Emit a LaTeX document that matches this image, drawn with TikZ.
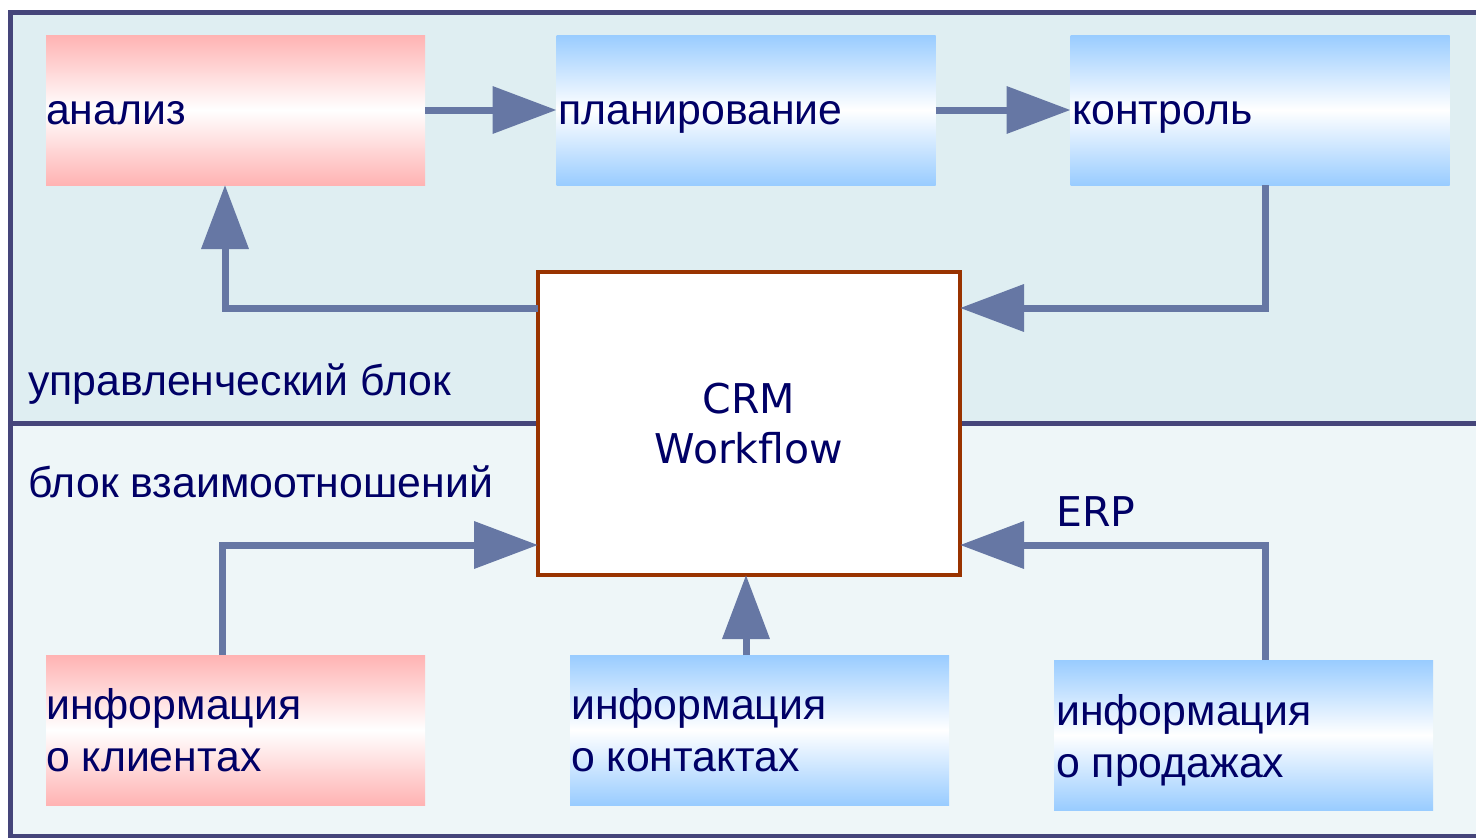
\documentclass[tikz,border=0pt]{standalone}
\usepackage{fontspec}
\setmainfont{Liberation Sans}
\newfontfamily\dejavu{DejaVu Sans}
\usetikzlibrary{arrows.meta,calc}
\definecolor{framec}{HTML}{45457A}
\definecolor{upfill}{HTML}{DFEEF2}
\definecolor{lowfill}{HTML}{EEF6F8}
\definecolor{pinkc}{HTML}{FFB3B3}
\definecolor{bluec}{HTML}{99CCFF}
\definecolor{arrowc}{HTML}{6677A4}
\definecolor{textc}{HTML}{000066}
\definecolor{crmborder}{HTML}{993300}
\begin{document}
\begin{tikzpicture}[x=1pt,y=-1pt,
  boxbase/.style={rectangle, inner sep=0pt, outer sep=0pt, minimum width=379pt, minimum height=150pt},
  pinkbox/.style={boxbase, top color=pinkc, bottom color=pinkc, middle color=white},
  bluebox/.style={boxbase, top color=bluec, bottom color=bluec, middle color=white},
  crmbox/.style={rectangle, inner sep=0pt, outer sep=0pt, minimum width=422pt, minimum height=303pt, draw=crmborder, line width=4pt, fill=white},
  lbl/.style={inner sep=0pt, text=textc, font=\fontsize{42.8}{52}\selectfont},
  crmlbl/.style={inner sep=0pt, text=textc, font=\dejavu\fontsize{41}{50}\selectfont},
  arr/.style={draw=arrowc, line width=7pt, -{Triangle[length=64pt,width=46pt]}},
  framestyle/.style={draw=framec, line width=5pt}
]
\useasboundingbox (0,0) rectangle (1476,838);
% background regions
\fill[upfill] (10,12) rectangle (1484,423);
\fill[lowfill] (10,423) rectangle (1484,836);
\draw[framestyle] (10,12) rectangle (1484,836);
\draw[framestyle] (10,423) -- (1484,423);

% boxes
\node[pinkbox] (analiz) at (235.5,110) {};
\node[bluebox] (plan) at (746,110) {};
\node[bluebox] (kontrol) at (1260,110) {};
\node[crmbox] (crm) at (749,423.5) {};
\node[pinkbox] (klient) at (235.5,730) {};
\node[bluebox] (kontakt) at (759.5,730) {};
\node[bluebox] (prod) at (1243.5,735) {};

% texts
\node[lbl, anchor=base west] (tanaliz) at (46,124) {анализ};
\node[lbl, anchor=base west] (tplan) at (558,124) {планирование};
\node[lbl, anchor=base west] (tkontrol) at (1072,124) {контроль};
\node[lbl, anchor=base west] (tupr) at (28,395) {управленческий блок};
\node[lbl, anchor=base west] (tvz) at (28,497) {блок взаимоотношений};
\node[lbl, anchor=base west, align=left] (tklient) at (46,771) {информация\\о клиентах};
\node[lbl, anchor=base west, align=left] (tkontakt) at (571,771) {информация\\о контактах};
\node[lbl, anchor=base west, align=left] (tprod) at (1056,777) {информация\\о продажах};
\node[crmlbl, anchor=base, align=center] (tcrm) at (749,463) {CRM\\Workflow};
\node[crmlbl, anchor=base west] (terp) at (1056,526) {ERP};

% connectors
\draw[arr] (analiz.east) -- (plan.west);
\draw[arr] (plan.east) -- (kontrol.west);
\draw[arr] ([xshift=5pt]kontrol.south) |- ([yshift=115.5pt]crm.east);
\draw[arr] ([yshift=115.5pt]crm.west) -| ([xshift=-10.5pt]analiz.south);
\draw[arr] ([xshift=-13.5pt]klient.north) |- ([yshift=-121.5pt]crm.west);
\draw[arr] ([xshift=-13.5pt]kontakt.north) -- ([xshift=-3pt]crm.south);
\draw[arr] ([xshift=21.5pt]prod.north) |- ([yshift=-121.5pt]crm.east);
\end{tikzpicture}
\end{document}
